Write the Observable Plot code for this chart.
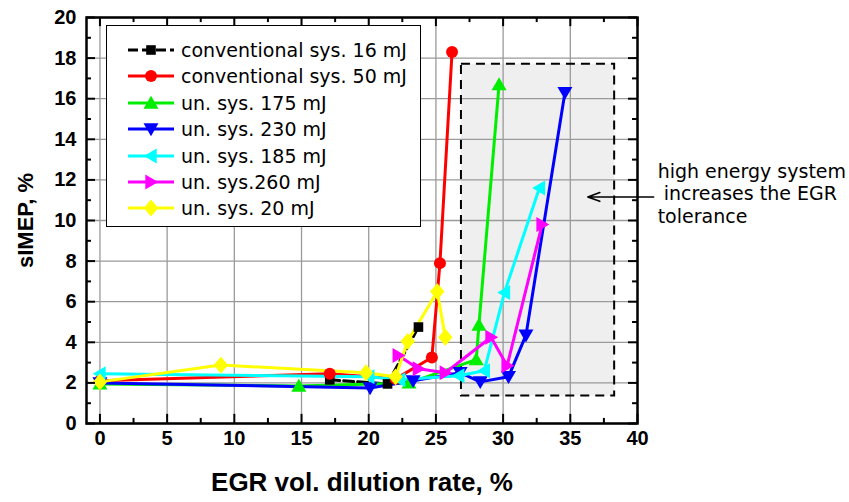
<!DOCTYPE html>
<html>
<head>
<meta charset="utf-8">
<script src="https://cdn.jsdelivr.net/npm/d3@7"></script>
<script src="https://cdn.jsdelivr.net/npm/@observablehq/plot@0.6"></script>
<style>
  html, body { margin: 0; padding: 0; background: #fff; }
  #wrap { position: relative; width: 849px; height: 502px; }
  #legend { position: absolute; left: 106px; top: 25px; width: 313px; height: 200px;
    border: 1.5px solid #000; background: #fff; font-family: "DejaVu Sans", sans-serif; font-size: 19px; color: #000; }
  .row { position: absolute; left: 0; height: 26px; display: flex; align-items: center; white-space: nowrap; }
  .row svg { margin-left: 20px; margin-right: 6px; }
</style>
</head>
<body>
<div id="wrap"></div>
<script>
// ---- data ----
const seriesNames = [
  "conventional sys. 16 mJ",
  "conventional sys. 50 mJ",
  "un. sys. 175 mJ",
  "un. sys. 230 mJ",
  "un. sys. 185 mJ",
  "un. sys.260 mJ",
  "un. sys. 20 mJ"
];
const seriesColors = ["#000000", "#ff0000", "#00ee00", "#0000ff", "#00ffff", "#ff00ff", "#ffff00"];
const seriesShapes = ["square", "circle", "triUp", "triDown", "triLeft", "triRight", "diamond"];
const seriesDash = ["10,4", null, null, null, null, null, null];

const x16 = [17.1, 21.4, 23.7];
const y16 = [2.15, 1.95, 4.75];
const x50 = [0, 17.1, 22.0, 24.7, 25.3, 26.2];
const y50 = [2.1, 2.45, 2.2, 3.25, 7.9, 18.3];
const x175 = [0, 14.8, 23.0, 28.0, 28.2, 29.7];
const y175 = [1.95, 1.85, 2.0, 3.15, 4.85, 16.7];
const x230 = [0, 20.1, 23.3, 26.8, 28.3, 30.4, 31.7, 34.6];
const y230 = [2.0, 1.75, 2.1, 2.5, 2.05, 2.3, 4.35, 16.3];
const x185 = [0, 20.0, 22.3, 26.7, 28.6, 30.1, 32.7];
const y185 = [2.45, 2.3, 2.15, 2.35, 2.6, 6.45, 11.6];
const x260 = [22.2, 23.7, 25.7, 29.1, 30.3, 32.9];
const y260 = [3.35, 2.7, 2.5, 4.25, 2.85, 9.8];
const x20 = [0, 9.0, 19.8, 22.0, 22.9, 25.1, 25.7];
const y20 = [2.05, 2.88, 2.5, 2.3, 4.05, 6.5, 4.25];

const seriesX = [x16, x50, x175, x230, x185, x260, x20];
const seriesY = [y16, y50, y175, y230, y185, y260, y20];

const xTicks = [0, 5, 10, 15, 20, 25, 30, 35, 40];
const xMinor = [2.5, 7.5, 12.5, 17.5, 22.5, 27.5, 32.5, 37.5];
const yTicks = [0, 2, 4, 6, 8, 10, 12, 14, 16, 18, 20];
const yMinor = [1, 3, 5, 7, 9, 11, 13, 15, 17, 19];

const xTitle = "EGR vol. dilution rate, %";
const yTitle = "sIMEP, %";
const yTitlePos = {x: -5.5, y: 10};

// highlighted region and annotation
const boxRegion = [{x1: 26.9, x2: 38.3, y1: 1.35, y2: 17.7}];
const annotText = ["high energy system\n\u00a0increases the EGR\ntolerance"];
const annotPos = {x: 41.5, y: 11.35};
const arrowSeg = [{x1: 41.2, y1: 11.16, x2: 36.3, y2: 11.16}];

// ---- symbols ----
function shapePath(name, r) {
  switch (name) {
    case "square": { const h = 0.8 * r; return [[-h,-h],[h,-h],[h,h],[-h,h]]; }
    case "triUp": return [[0,-1.2*r],[1.25*r,0.95*r],[-1.25*r,0.95*r]];
    case "triDown": return [[0,1.2*r],[1.25*r,-0.95*r],[-1.25*r,-0.95*r]];
    case "triLeft": return [[-1.2*r,0],[0.95*r,-1.25*r],[0.95*r,1.25*r]];
    case "triRight": return [[1.2*r,0],[-0.95*r,-1.25*r],[-0.95*r,1.25*r]];
    case "diamond": return [[0,-1.4*r],[1.2*r,0],[0,1.4*r],[-1.2*r,0]];
  }
  return null;
}
function makeSymbol(name) {
  return {
    draw(context, size) {
      const r = Math.sqrt(size / Math.PI);
      if (name === "circle") { context.moveTo(r, 0); context.arc(0, 0, r, 0, 2 * Math.PI); return; }
      const pts = shapePath(name, r);
      context.moveTo(pts[0][0], pts[0][1]);
      for (let i = 1; i < pts.length; i++) context.lineTo(pts[i][0], pts[i][1]);
      context.closePath();
    }
  };
}

const tables = seriesNames.map((name, i) =>
  seriesX[i].map((x, j) => ({series: name, x, y: seriesY[i][j]})));

const lineMarks = [];
const dotMarks = [];
tables.forEach((rows, i) => {
  lineMarks.push(Plot.line(rows, {x: "x", y: "y", stroke: seriesColors[i], strokeWidth: 3,
    strokeDasharray: seriesDash[i] || undefined}));
  dotMarks.push(Plot.dot(rows, {x: "x", y: "y", r: 6, fill: seriesColors[i], stroke: "none",
    symbol: makeSymbol(seriesShapes[i])}));
});

const chart = Plot.plot({
  width: 849,
  height: 502,
  marginLeft: 86,
  marginRight: 212,
  marginTop: 17,
  marginBottom: 79,
  x: {domain: [-1, 40]},
  y: {domain: [0, 20]},
  style: {fontFamily: "'Liberation Sans', Arial, sans-serif", color: "#000", background: "#fff", overflow: "visible"},
  marks: [
    Plot.rect(boxRegion, {x1: "x1", x2: "x2", y1: "y1", y2: "y2", fill: "#efefef"}),
    Plot.gridX({ticks: xTicks, stroke: "#9a9a9a", strokeOpacity: 1, strokeWidth: 1.3}),
    Plot.gridY({ticks: yTicks, stroke: "#9a9a9a", strokeOpacity: 1, strokeWidth: 1.3}),
    Plot.rect(boxRegion, {x1: "x1", x2: "x2", y1: "y1", y2: "y2", fill: "none", stroke: "#000",
      strokeWidth: 2, strokeDasharray: "9,6"}),
    ...lineMarks,
    ...dotMarks,
    // inward ticks on all four sides
    Plot.ruleX(xTicks, {y1: 0, y2: 0.45, stroke: "#000", strokeWidth: 2}),
    Plot.ruleX(xTicks, {y1: 20, y2: 19.55, stroke: "#000", strokeWidth: 2}),
    Plot.ruleX(xMinor, {y1: 0, y2: 0.25, stroke: "#000", strokeWidth: 2}),
    Plot.ruleX(xMinor, {y1: 20, y2: 19.75, stroke: "#000", strokeWidth: 2}),
    Plot.ruleY(yTicks, {x1: -1, x2: -0.33, stroke: "#000", strokeWidth: 2}),
    Plot.ruleY(yTicks, {x1: 40, x2: 39.33, stroke: "#000", strokeWidth: 2}),
    Plot.ruleY(yMinor, {x1: -1, x2: -0.63, stroke: "#000", strokeWidth: 2}),
    Plot.ruleY(yMinor, {x1: 40, x2: 39.63, stroke: "#000", strokeWidth: 2}),
    Plot.frame({stroke: "#000", strokeWidth: 2.5}),
    Plot.axisX({ticks: xTicks, tickSize: 0, tickPadding: 7, fontSize: 20, fontWeight: "bold", label: null}),
    Plot.axisY({ticks: yTicks, tickSize: 0, tickPadding: 10, fontSize: 20, fontWeight: "bold", label: null}),
    Plot.text([xTitle], {text: d => d, frameAnchor: "bottom", dy: 67, fontSize: 26, fontWeight: "bold"}),
    Plot.text([yTitle], {text: d => d, x: yTitlePos.x, y: yTitlePos.y, rotate: -90, fontSize: 22, fontWeight: "bold"}),
    Plot.arrow(arrowSeg, {x1: "x1", y1: "y1", x2: "x2", y2: "y2", stroke: "#000", strokeWidth: 1.6, headLength: 12, headAngle: 40}),
    Plot.text(annotText, {text: d => d, x: annotPos.x, y: annotPos.y, textAnchor: "start", lineHeight: 1.2,
      fontSize: 19, fontFamily: "'DejaVu Sans', sans-serif", fill: "#000"})
  ]
});

const wrap = document.getElementById("wrap");
wrap.appendChild(chart);

// legend
const legend = document.createElement("div");
legend.id = "legend";
seriesNames.forEach((name, i) => {
  const row = document.createElement("div");
  row.className = "row";
  row.style.top = (11 + i * 26.4) + "px";
  const ns = "http://www.w3.org/2000/svg";
  const svg = document.createElementNS(ns, "svg");
  svg.setAttribute("width", 48); svg.setAttribute("height", 20);
  const ln = document.createElementNS(ns, "line");
  ln.setAttribute("x1", 1); ln.setAttribute("x2", 47); ln.setAttribute("y1", 10); ln.setAttribute("y2", 10);
  ln.setAttribute("stroke", seriesColors[i]); ln.setAttribute("stroke-width", 3);
  if (seriesDash[i]) ln.setAttribute("stroke-dasharray", seriesDash[i]);
  svg.appendChild(ln);
  const p = document.createElementNS(ns, "path");
  const path = d3.path();
  makeSymbol(seriesShapes[i]).draw(path, 36 * Math.PI);
  p.setAttribute("d", path.toString());
  p.setAttribute("transform", "translate(24,10)");
  p.setAttribute("fill", seriesColors[i]);
  svg.appendChild(p);
  row.appendChild(svg);
  const t = document.createElement("span");
  t.textContent = name;
  row.appendChild(t);
  legend.appendChild(row);
});
wrap.appendChild(legend);
</script>
</body>
</html>
